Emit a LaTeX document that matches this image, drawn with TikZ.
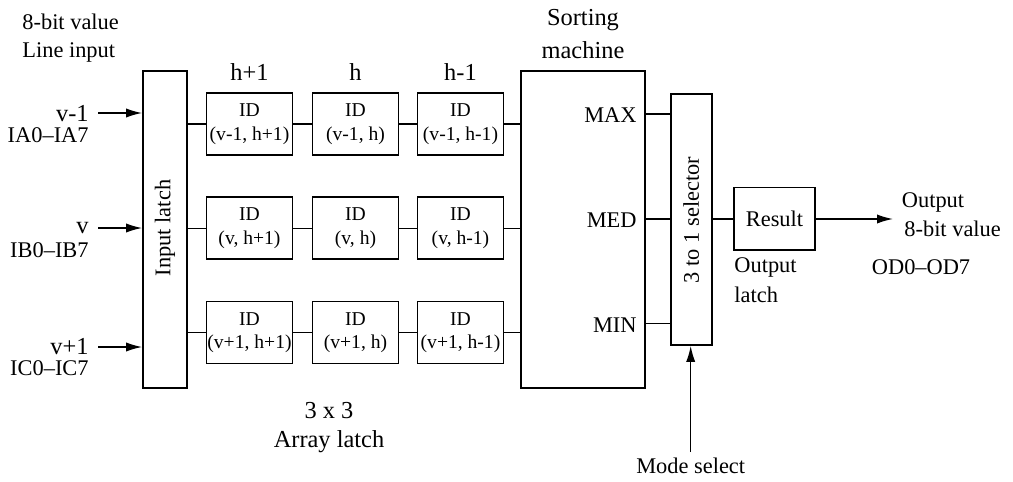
\documentclass[tikz,border=0pt]{standalone}
\usepackage{fontspec}
\setmainfont{Liberation Serif}
\usetikzlibrary{arrows.meta}
\begin{document}
\begin{tikzpicture}[x=0.5pt,y=-0.5pt,
  box/.style={draw,line width=0.9pt,inner sep=0pt},
  idbox/.style={box,minimum width=43pt,minimum height=31pt,align=center,font=\fontsize{9.8}{11.8}\selectfont},
  lab/.style={inner sep=0pt,font=\fontsize{11.2}{14}\selectfont},
  big/.style={inner sep=0pt,font=\fontsize{12.2}{15}\selectfont},
  wire/.style={line width=0.7pt},
  arr/.style={wire,-{Latex[length=8pt,width=4.6pt]}}]
\useasboundingbox (0,0) rectangle (1013,482);
% input latch
\node[box,minimum width=22pt,minimum height=158.5pt] (latch) at (165,229.5) {};
\node[lab,rotate=90] (latchlab) at (165,228) {Input latch};
% top-left labels
\node[lab,anchor=west] (t1) at (22,22) {8-bit value};
\node[lab,anchor=west] (t2) at (22,52) {Line input};
% input labels
\node[big,anchor=east] (v1) at (89,114) {v-1};
\node[lab,anchor=east] (ia) at (89,135) {IA0–IA7};
\node[big,anchor=east] (v0) at (89,228) {v};
\node[lab,anchor=east] (ib) at (89,250) {IB0–IB7};
\node[big,anchor=east] (v2) at (89,347) {v+1};
\node[lab,anchor=east] (ic) at (89,368) {IC0–IC7};
\coordinate (a1) at (98,113);
\coordinate (a2) at (98,228);
\coordinate (a3) at (98,347);
\draw[arr] (a1) -- (latch.west |- a1);
\draw[arr] (a2) -- (latch.west |- a2);
\draw[arr] (a3) -- (latch.west |- a3);
% column headers
\node[big] (hp) at (249.5,72) {h+1};
\node[big] (h0) at (355.5,72) {h};
\node[big] (hm) at (460.5,72) {h-1};
% ID boxes
\node[idbox] (i11) at (249.5,124) {ID\\(v-1, h+1)};
\node[idbox] (i12) at (355.5,124) {ID\\(v-1, h)};
\node[idbox] (i13) at (460.5,124) {ID\\(v-1, h-1)};
\node[idbox] (i21) at (249.5,228.3) {ID\\(v, h+1)};
\node[idbox] (i22) at (355.5,228.3) {ID\\(v, h)};
\node[idbox] (i23) at (460.5,228.3) {ID\\(v, h-1)};
\node[idbox] (i31) at (249.5,332.5) {ID\\(v+1, h+1)};
\node[idbox] (i32) at (355.5,332.5) {ID\\(v+1, h)};
\node[idbox] (i33) at (460.5,332.5) {ID\\(v+1, h-1)};
% sorting machine
\node[box,minimum width=62pt,minimum height=158.5pt] (sort) at (583,229.5) {};
\node[big] (s1) at (583,20) {Sorting};
\node[big] (s2) at (583,50) {machine};
\node[lab,anchor=east] (mx) at (637,115) {MAX};
\node[lab,anchor=east] (md) at (637,220) {MED};
\node[lab,anchor=east] (mn) at (637,325) {MIN};
% wires latch -> IDs -> sorting
\foreach \r in {1,2,3}{
  \draw[wire] (latch.east |- i\r1.west) -- (i\r1.west);
  \draw[wire] (i\r1.east) -- (i\r2.west);
  \draw[wire] (i\r2.east) -- (i\r3.west);
  \draw[wire] (i\r3.east) -- (sort.west |- i\r3.east);
}
% selector
\node[box,minimum width=20.5pt,minimum height=125.5pt] (sel) at (691.3,219.5) {};
\node[lab,rotate=90] (sellab) at (691.3,220) {3 to 1 selector};
\coordinate (pmax) at (645,114);
\coordinate (pmed) at (645,219);
\coordinate (pmin) at (645,323.5);
\draw[wire] (pmax) -- (sel.west |- pmax);
\draw[wire] (pmed) -- (sel.west |- pmed);
\draw[wire] (pmin) -- (sel.west |- pmin);
% mode select
\node[lab] (mode) at (690.7,466) {Mode select};
\coordinate (mstart) at (690.7,452);
\draw[arr] (mstart) -- (sel.south -| mstart);
% result
\node[box,minimum width=40.5pt,minimum height=31.3pt,font=\fontsize{11.2}{14}\selectfont] (res) at (774.5,218.7) {Result};
\draw[wire] (sel.east |- pmed) -- (res.west |- pmed);
\coordinate (oend) at (893,219);
\draw[arr] (res.east |- oend) -- (oend);
\node[lab,anchor=west] (o1) at (901.5,202) {Output};
\node[lab,anchor=west] (o2) at (904,229) {8-bit value};
\node[lab,anchor=west] (od) at (871.5,267) {OD0–OD7};
\node[lab,anchor=west] (ol1) at (734,267) {Output};
\node[lab,anchor=west] (ol2) at (734,295) {latch};
% array latch label
\node[big] (ar1) at (329,411) {3 x 3};
\node[big] (ar2) at (329,442) {Array latch};
\end{tikzpicture}
\end{document}
